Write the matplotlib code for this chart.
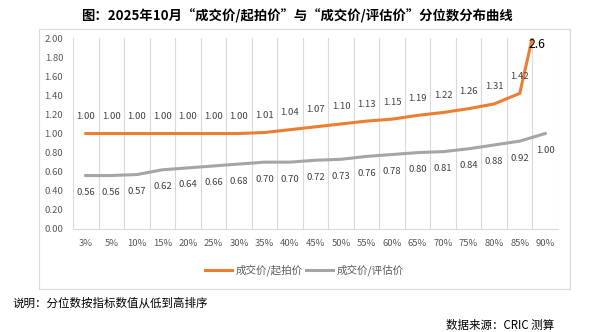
import matplotlib
matplotlib.use("Agg")
import matplotlib.pyplot as plt
import numpy as np
from matplotlib.patches import Rectangle

plt.rcParams['font.family'] = ['Noto Sans CJK SC', 'DejaVu Sans']

categories = ['3%', '5%', '10%', '15%', '20%', '25%', '30%', '35%', '40%', '45%',
              '50%', '55%', '60%', '65%', '70%', '75%', '80%', '85%', '90%']
start_ratio = [1.00, 1.00, 1.00, 1.00, 1.00, 1.00, 1.00, 1.01, 1.04, 1.07,
               1.10, 1.13, 1.15, 1.19, 1.22, 1.26, 1.31, 1.42, 2.6]
eval_ratio = [0.56, 0.56, 0.57, 0.62, 0.64, 0.66, 0.68, 0.70, 0.70, 0.72,
              0.73, 0.76, 0.78, 0.80, 0.81, 0.84, 0.88, 0.92, 1.00]
yticks = [0.0, 0.2, 0.4, 0.6, 0.8, 1.0, 1.2, 1.4, 1.6, 1.8, 2.0]
series_names = ['成交价/起拍价', '成交价/评估价']

W, H = 608, 332
fig = plt.figure(figsize=(W / 100, H / 100), dpi=100)

# chart border
fig.patches.append(Rectangle((39 / W, 1 - 289 / H), (570 - 39) / W, (289 - 29) / H,
                             transform=fig.transFigure, fill=False,
                             edgecolor='#D9D9D9', linewidth=0.8))

ax = fig.add_axes([73 / W, 1 - 229 / H, (558 - 73) / W, (229 - 38) / H])
x = np.arange(len(categories))
orange = '#ED7D31'
grey = '#A5A5A5'
ax.plot(x, start_ratio, color=orange, lw=2.2, solid_joinstyle='round', label=series_names[0])
ax.plot(x, eval_ratio, color=grey, lw=2.2, solid_joinstyle='round', label=series_names[1])

ax.set_xlim(-0.5, len(categories) - 0.5)
ax.set_ylim(0, 2.0)
ax.set_yticks(yticks)
ax.set_yticklabels([f'{v:.2f}' for v in yticks])
ax.set_xticks(x)
ax.set_xticklabels(categories)
ax.set_xticks(np.arange(-0.5, len(categories), 1), minor=True)
ax.grid(True, which='minor', axis='x', color='#D9D9D9', lw=0.8)
ax.tick_params(axis='both', which='both', length=0, colors='#595959', labelsize=6.8)
ax.tick_params(axis='y', pad=7)
ax.tick_params(axis='x', pad=7)
for s in ['top', 'right', 'left']:
    ax.spines[s].set_visible(False)
ax.spines['bottom'].set_color('#D9D9D9')
ax.spines['bottom'].set_linewidth(0.8)

for i, v in enumerate(start_ratio):
    if v <= 2.0:
        ax.annotate(f'{v:.2f}', (x[i], v), xytext=(0, 9), textcoords='offset points',
                    ha='center', va='bottom', fontsize=6.8, color='#404040')
    else:
        ax.annotate(f'{v}', (x[i], 2.0), xytext=(-6, -5), textcoords='offset points',
                    ha='center', va='center', fontsize=8.8, color='#000000',
                    annotation_clip=False)
for i, v in enumerate(eval_ratio):
    ax.annotate(f'{v:.2f}', (x[i], v), xytext=(0, -9), textcoords='offset points',
                ha='center', va='top', fontsize=6.8, color='#404040')

fig.legend(loc='center', bbox_to_anchor=(304 / W, 1 - 270 / H), ncol=2, frameon=False,
           fontsize=7.6, handlelength=2.6, columnspacing=0.3, handletextpad=0.3,
           labelcolor='#595959')

fig.text(297 / W, 1 - 16 / H,
         '图：2025年10月“成交价/起拍价”与“成交价/评估价”分位数分布曲线',
         ha='center', va='center', fontsize=9.6, fontweight='bold', color='#000000')
fig.text(12 / W, 1 - 303 / H, '说明：分位数按指标数值从低到高排序',
         ha='left', va='center', fontsize=8.3, color='#000000')
fig.text(554 / W, 1 - 325 / H, '数据来源：CRIC 测算',
         ha='right', va='center', fontsize=8.3, color='#000000')

fig.savefig('out.png', dpi=100)
